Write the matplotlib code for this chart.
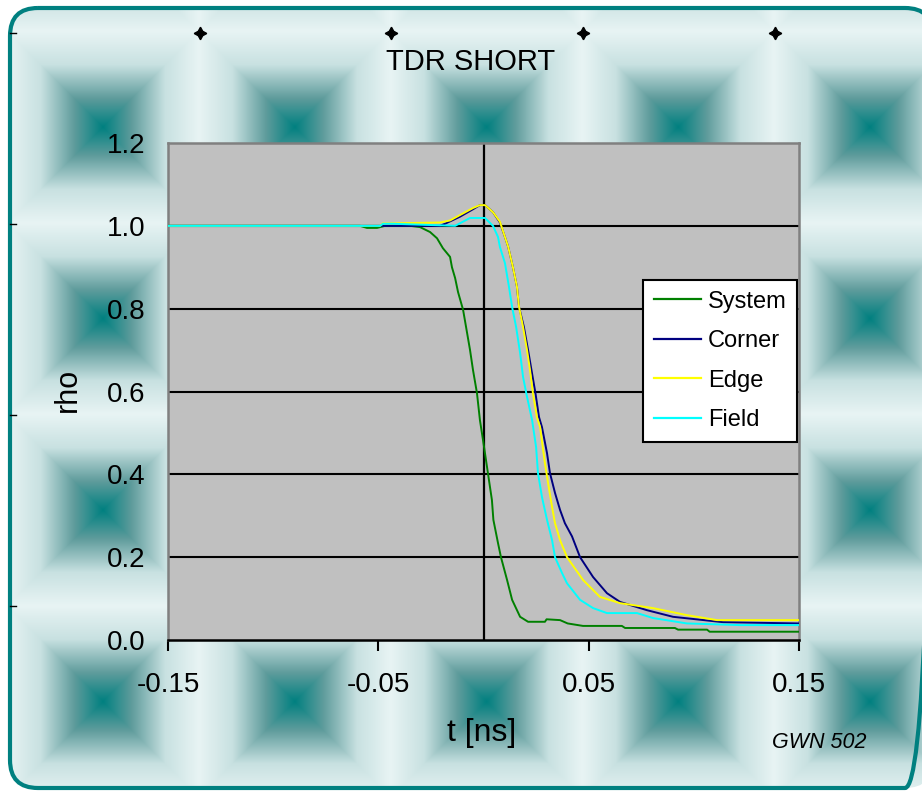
import matplotlib
matplotlib.use("Agg")
import matplotlib.pyplot as plt
import numpy as np
from matplotlib.patches import FancyBboxPatch

plt.rcParams['font.family'] = ['Liberation Sans', 'DejaVu Sans']

# values: t in ns, rho
system_t = [-0.150, -0.0587, -0.0554, -0.0506, -0.0468, -0.0349, -0.0302, -0.0254, -0.0221, -0.0193,
            -0.0159, -0.0150, -0.0135, -0.0121, -0.0097, -0.0083, -0.0064, -0.0050, -0.0031, -0.0017,
            0.0000, 0.0021, 0.0040, 0.0047, 0.0069, 0.0083, 0.0112, 0.0136, 0.0174, 0.0212,
            0.0292, 0.0300, 0.0364, 0.0400, 0.0473, 0.0658, 0.0673, 0.0910, 0.0925, 0.1063, 0.1075, 0.150]
system_rho = [1.000, 1.000, 0.995, 0.995, 1.000, 1.000, 0.997, 0.985, 0.970, 0.946,
              0.925, 0.900, 0.874, 0.840, 0.797, 0.756, 0.700, 0.652, 0.596, 0.531,
              0.475, 0.403, 0.338, 0.290, 0.234, 0.200, 0.145, 0.097, 0.056, 0.044,
              0.044, 0.050, 0.048, 0.040, 0.034, 0.034, 0.029, 0.029, 0.025, 0.025, 0.020, 0.020]

corner_t = [-0.150, -0.0207, -0.0183, -0.0112, -0.0050, -0.0017, 0.0007, 0.0045, 0.0078, 0.0102,
            0.0117, 0.0140, 0.0159, 0.0169, 0.0192, 0.0212, 0.0228, 0.0247, 0.0264, 0.0278,
            0.0302, 0.0316, 0.0340, 0.0364, 0.0387, 0.0421, 0.0459, 0.0521, 0.0587, 0.0649,
            0.0777, 0.0901, 0.1139, 0.150]
corner_rho = [1.000, 1.000, 1.005, 1.022, 1.040, 1.050, 1.050, 1.033, 1.008, 0.973,
              0.950, 0.900, 0.853, 0.804, 0.756, 0.700, 0.652, 0.596, 0.538, 0.514,
              0.451, 0.403, 0.355, 0.314, 0.282, 0.250, 0.200, 0.152, 0.113, 0.092,
              0.072, 0.056, 0.043, 0.040]

edge_t = [-0.150, -0.0492, -0.0478, -0.0440, -0.0207, -0.0159, -0.0112, -0.0050, -0.0017, 0.0007,
          0.0045, 0.0078, 0.0102, 0.0117, 0.0140, 0.0159, 0.0169, 0.0188, 0.0207, 0.0221,
          0.0235, 0.0254, 0.0269, 0.0292, 0.0307, 0.0326, 0.0340, 0.0364, 0.0397, 0.0473,
          0.0554, 0.0649, 0.0806, 0.0967, 0.1110, 0.150]
edge_rho = [1.000, 1.000, 1.006, 1.006, 1.008, 1.013, 1.026, 1.043, 1.050, 1.050,
            1.033, 1.010, 0.973, 0.950, 0.900, 0.853, 0.804, 0.756, 0.700, 0.652,
            0.596, 0.538, 0.514, 0.427, 0.379, 0.321, 0.282, 0.241, 0.200, 0.145,
            0.104, 0.089, 0.077, 0.060, 0.048, 0.048]

field_t = [-0.150, -0.0492, -0.0478, -0.0430, -0.0135, -0.0064, 0.0007, 0.0017, 0.0045, 0.0069,
           0.0078, 0.0102, 0.0121, 0.0136, 0.0155, 0.0174, 0.0188, 0.0207, 0.0231, 0.0250,
           0.0259, 0.0278, 0.0302, 0.0326, 0.0340, 0.0373, 0.0397, 0.0459, 0.0521, 0.0587,
           0.0730, 0.0806, 0.0967, 0.1219, 0.150]
field_rho = [1.000, 1.000, 1.005, 1.005, 1.000, 1.019, 1.019, 1.014, 1.000, 0.973,
             0.949, 0.910, 0.853, 0.804, 0.756, 0.693, 0.635, 0.587, 0.531, 0.466,
             0.403, 0.345, 0.290, 0.241, 0.200, 0.162, 0.137, 0.097, 0.077, 0.065,
             0.065, 0.053, 0.040, 0.036, 0.036]

x_ticks = [-0.15, -0.05, 0.05, 0.15]
x_labels = ['-0.15', '-0.05', '0.05', '0.15']
y_ticks = [0.0, 0.2, 0.4, 0.6, 0.8, 1.0, 1.2]
y_labels = ['0.0', '0.2', '0.4', '0.6', '0.8', '1.0', '1.2']

W, H = 922, 791
fig = plt.figure(figsize=(W / 100, H / 100), dpi=100)
fig.patch.set_facecolor('white')

# background: tiled centre gradient inside a rounded teal frame (pixel coords)
bg = fig.add_axes([0, 0, 1, 1])
tile = 191.5
xs = np.arange(W) + 0.5
ys = np.arange(H) + 0.5
u = np.abs(((xs - 103 + tile / 2) % tile) - tile / 2) / (tile / 2)
v = np.abs(((ys - 127 + tile / 2) % tile) - tile / 2) / (tile / 2)
d = np.maximum(u[None, :], v[:, None])
stops = [0.0, 0.3, 0.65, 1.0]
cols = np.array([[0, 128, 128], [95, 156, 156], [200, 225, 225], [232, 244, 244]]) / 255
img = np.stack([np.interp(d, stops, cols[:, k]) for k in range(3)], axis=-1)
im = bg.imshow(img, extent=(0, W, H, 0), aspect='auto', zorder=1)
frame = FancyBboxPatch((10, 8), 923, 780, boxstyle="round,pad=0,rounding_size=28",
                       facecolor='none', edgecolor='#008080', linewidth=3, zorder=3)
bg.add_patch(frame)
im.set_clip_path(frame)
bg.plot([200, 391, 583, 775], [33] * 4, ls='none', marker=(4, 1, 0), ms=9, color='black', zorder=4)
for yy in [33, 224, 415, 606]:
    bg.plot([10, 16], [yy, yy], color='black', lw=1, zorder=4)
bg.set_xlim(0, W)
bg.set_ylim(H, 0)
bg.axis('off')

ax = fig.add_axes([168 / W, 1 - 640 / H, 631 / W, 497 / H])
ax.set_facecolor('#C0C0C0')
for y in y_ticks[1:-1]:
    ax.axhline(y, color='black', lw=1.5, zorder=1)
ax.axvline(0, color='black', lw=1.6, zorder=1.5)

ax.plot(system_t, system_rho, color='#008000', lw=1.4, label='System', zorder=3)
ax.plot(corner_t, corner_rho, color='#000080', lw=1.4, label='Corner', zorder=3)
ax.plot(edge_t, edge_rho, color='#FFFF00', lw=1.4, label='Edge', zorder=3)
ax.plot(field_t, field_rho, color='#00FFFF', lw=1.4, label='Field', zorder=3)

ax.set_xlim(-0.15, 0.15)
ax.set_ylim(0, 1.2)
ax.set_xticks(x_ticks)
ax.set_xticklabels(x_labels)
ax.set_yticks(y_ticks)
ax.set_yticklabels(y_labels)
ax.tick_params(axis='x', direction='out', length=8, width=1.5, color='black', labelsize=20, pad=15)
ax.tick_params(axis='y', length=0, labelsize=20, pad=16)
for s in ['top', 'left', 'right']:
    ax.spines[s].set_color('#808080')
    ax.spines[s].set_linewidth(1.8)
ax.spines['bottom'].set_color('black')
ax.spines['bottom'].set_linewidth(1.8)

ax.set_xlabel('t [ns]', fontsize=23, va='center')
ax.xaxis.set_label_coords((482 - 168) / 631, (640 - 733) / 497)
ax.set_ylabel('rho', fontsize=22, va='center')
ax.yaxis.set_label_coords((68 - 168) / 631, (640 - 390) / 497)

fig.text(471 / W, 1 - 70 / H, 'TDR SHORT', fontsize=21, ha='center', va='baseline')
fig.text(772 / W, 1 - 748 / H, 'GWN 502', fontsize=15.5, style='italic', ha='left', va='baseline')

leg = ax.legend(loc='upper left', bbox_to_anchor=(643 / W, 1 - 280 / H), bbox_transform=fig.transFigure,
                borderaxespad=0, fontsize=17, frameon=True, fancybox=False, edgecolor='black',
                facecolor='white', framealpha=1, handlelength=2.0, handletextpad=0.3,
                labelspacing=0.74, borderpad=0.45)
leg.get_frame().set_linewidth(1.5)
for h in leg.get_lines():
    h.set_linewidth(1.6)

fig.savefig('out.png', dpi=100, facecolor=fig.get_facecolor())
